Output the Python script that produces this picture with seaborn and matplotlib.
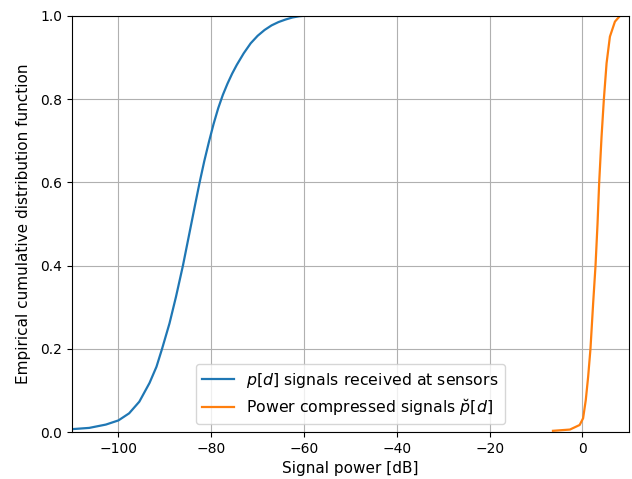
import matplotlib
matplotlib.use("Agg")
import matplotlib.pyplot as plt
import seaborn as sns
import pandas as pd

# Received signals CDF (blue)
recv_power = [-110, -106.3, -102.7, -100, -97.7, -95.5, -93.3, -91.8, -90.6, -89.0,
              -87.6, -86.1, -84.7, -83.5, -82.5, -81.5, -80.5, -79.5, -78.5, -77.5,
              -76.5, -75.5, -74.5, -73.0, -71.5, -70.0, -68.5, -67.0, -65.5, -64.0,
              -62.5, -61.0, -60.0, -55.0]
recv_cdf = [0.007, 0.010, 0.018, 0.028, 0.045, 0.073, 0.118, 0.157, 0.20, 0.261,
            0.325, 0.40, 0.478, 0.545, 0.60, 0.651, 0.697, 0.740, 0.778, 0.810,
            0.837, 0.861, 0.882, 0.910, 0.934, 0.952, 0.966, 0.977, 0.985, 0.991,
            0.996, 0.999, 1.0, 1.0]

# Power compressed signals CDF (orange)
comp_power = [-6.35, -2.7, -0.6, 0.14, 0.72, 1.23, 1.73, 2.31, 2.82, 3.25, 3.61,
              4.12, 4.62, 5.2, 5.92, 7.0, 8.1]
comp_cdf = [0.003, 0.006, 0.017, 0.033, 0.077, 0.133, 0.20, 0.31, 0.40, 0.50, 0.60,
            0.71, 0.80, 0.886, 0.95, 0.986, 1.0]

label_recv = r'$p[d]$ signals received at sensors'
label_comp = r'Power compressed signals $\breve{p}[d]$'

df = pd.concat([
    pd.DataFrame({"power": recv_power, "cdf": recv_cdf, "series": label_recv}),
    pd.DataFrame({"power": comp_power, "cdf": comp_cdf, "series": label_comp}),
])

fig = plt.figure(figsize=(6.32, 4.79), dpi=100)
ax = fig.add_axes([0.114, 0.098, 0.881, 0.869])
sns.lineplot(data=df, x="power", y="cdf", hue="series", sort=False,
             palette=["#1f77b4", "#ff7f0e"], linewidth=1.6, ax=ax, estimator=None)
ax.set_xlim(-110, 10)
ax.set_ylim(0, 1)
ax.grid(True)
ax.set_xlabel("Signal power [dB]", fontsize=11)
ax.set_ylabel("Empirical cumulative distribution function", fontsize=11, labelpad=6.5)
ax.legend(loc="lower center", title=None, fontsize=11.3)
fig.savefig("out.png", dpi=100)
